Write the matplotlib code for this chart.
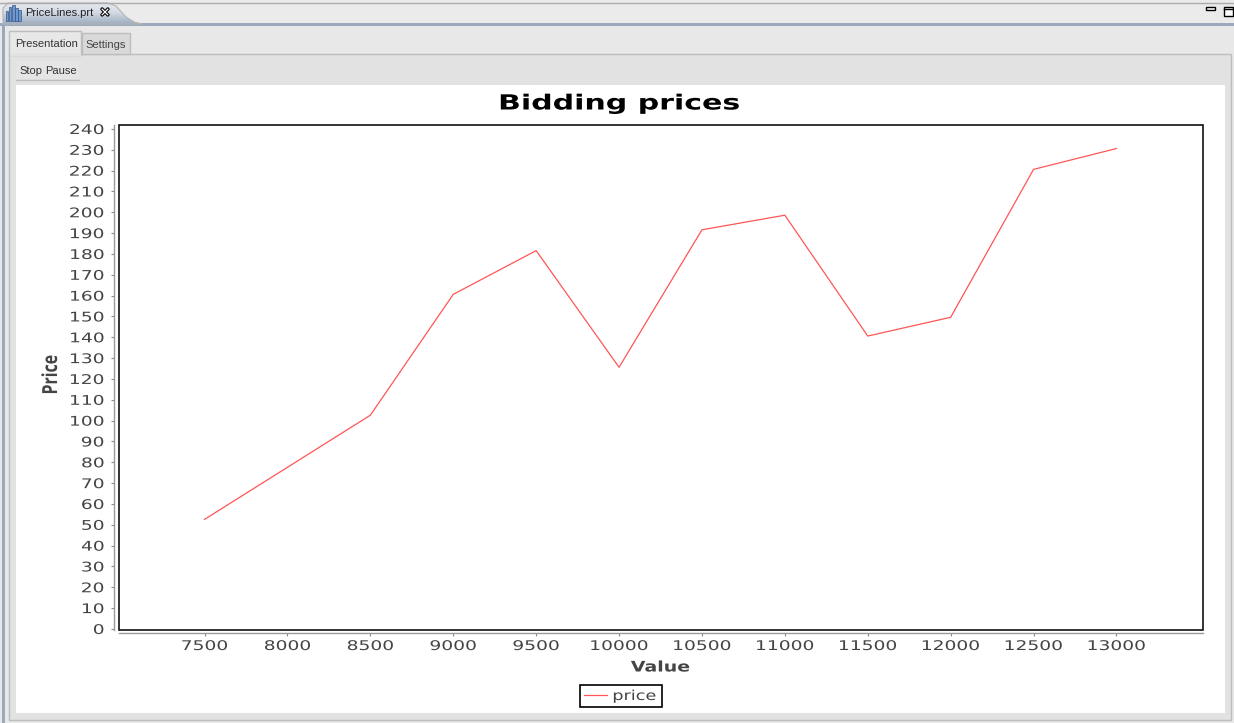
#!/usr/bin/env python

import numpy as np
import matplotlib
matplotlib.use('Agg')
import matplotlib.pyplot as plt
import matplotlib.patheffects as pe
from matplotlib.patches import Rectangle, Polygon
from matplotlib.transforms import Affine2D

# data
values = [7500, 8500, 9000, 9500, 10000, 10500, 11000, 11500, 12000, 12500, 13000]
prices = [52.6, 102.6, 160.6, 181.6, 125.6, 191.6, 198.6, 140.6, 149.6, 220.6, 230.6]
x_ticks = [7500, 8000, 8500, 9000, 9500, 10000, 10500, 11000, 11500, 12000, 12500, 13000]
y_ticks = list(range(0, 250, 10))
icon_bars = [10, 14, 16, 13, 11]

W, H = 1234, 723
TXT = '#444444'


# java2d draws the chart fonts wider than they are, so stretch the text paths
class Stretch(pe.AbstractPathEffect):
    def __init__(self, sx=1.0, sy=1.0, anchor='center'):
        super().__init__()
        self.sx, self.sy, self.anchor = sx, sy, anchor

    def draw_path(self, renderer, gc, tpath, affine, rgbFace=None):
        box = tpath.transformed(affine).get_extents()
        cx = {'center': (box.x0 + box.x1) / 2, 'right': box.x1, 'left': box.x0}[self.anchor]
        cy = (box.y0 + box.y1) / 2
        t = affine + Affine2D().translate(-cx, -cy).scale(self.sx, self.sy).translate(cx, cy)
        renderer.draw_path(gc, tpath, t, rgbFace)


fig = plt.figure(figsize=(W / 100, H / 100), dpi=100, facecolor='#e8e8e8')

# window chrome, in pixels
bg = fig.add_axes([0, 0, 1, 1], zorder=0)
bg.set_xlim(0, W)
bg.set_ylim(H, 0)
bg.axis('off')


def box(x0, y0, x1, y1, fc, ec='none', lw=0, **kw):
    bg.add_patch(Rectangle((x0, y0), x1 - x0, y1 - y0, fc=fc, ec=ec, lw=lw, **kw))


box(0, 0, W, 24, '#ebebeb')
bg.plot([0, W], [2.5, 2.5], color='#ababab', lw=1)
box(0, 23, W, 26, '#9aa9bd')
box(2, 24, 4.5, H, '#9aa9bd')

# editor tab with gradient
tab_pts = [(3, 24), (3, 8), (8, 3), (108, 3), (116, 6), (126, 17), (134, 22), (142, 24)]
tab = Polygon(tab_pts, closed=True, fc='none', ec='#b4b4b4', lw=0.8, zorder=1.6)
bg.add_patch(tab)
grad = np.linspace(0, 1, 24).reshape(-1, 1)
im = bg.imshow(grad, extent=(0, 145, 24, 0), cmap=matplotlib.colors.LinearSegmentedColormap.from_list(
    'tab', ['#eceef1', '#d4dbe4', '#9fafc3']), aspect='auto', zorder=1.5)
im.set_clip_path(tab)
bg.set_xlim(0, W)
bg.set_ylim(H, 0)
for i, h in enumerate(icon_bars):
    box(5.5 + i * 3.2, 21 - h, 8.2 + i * 3.2, 21, '#6f97cc', ec='#33558a', lw=0.5, zorder=2)
bg.text(25, 13.5, 'PriceLines.prt', fontsize=8, family='Liberation Sans', color='#222222',
        va='center', ha='left', zorder=3)
bg.text(105, 13, '✕', fontsize=9, family='DejaVu Sans', color='white', weight='bold',
        ha='center', va='center', zorder=3,
        path_effects=[pe.withStroke(linewidth=1.6, foreground='black')])

# minimise / maximise
box(1205.5, 6.5, 1214.5, 9.5, 'white', ec='black', lw=1)
box(1223.5, 6.5, 1232.5, 15.5, 'white', ec='black', lw=1)
bg.plot([1223.5, 1232.5], [8.5, 8.5], color='black', lw=1)

# inner panel
box(9, 54, 1231, 720, '#e2e2e2', ec='#bdbdbd', lw=1)
box(16, 85, 1225, 713, 'white')

# sub tabs
box(81.5, 33, 130, 54, '#d9d9d9', ec='#bdbdbd', lw=1)
box(9, 31, 81, 54.5, '#e8e8e8', ec='#bdbdbd', lw=1, zorder=2)
box(9.5, 53, 80.5, 56, '#e2e2e2', zorder=2.5)
bg.text(15, 44, 'Presentation', fontsize=8, family='Liberation Sans', color='#333333',
        va='center', zorder=3)
bg.text(85.5, 45, 'Settings', fontsize=8, family='Liberation Sans', color='#444444',
        va='center', zorder=3)
box(16, 61, 79, 79, '#e5e5e5')
bg.plot([16, 79], [79.5, 79.5], color='#bdbdbd', lw=1)
bg.text(19, 71, 'Stop', fontsize=8, family='Liberation Sans', color='#333333', va='center')
bg.text(45, 71, 'Pause', fontsize=8, family='Liberation Sans', color='#333333', va='center')

# chart area, plot box is x 119..1203, y 125..630 px
ax = fig.add_axes([119 / W, 1 - 630 / H, (1203 - 119) / W, (630 - 125) / H], zorder=1)
ax.patch.set_alpha(0)
ax.plot(values, prices, color='#ff5555', lw=0.9, label='price')
ax.set_xlim(6984, 13522)
ax.set_ylim(-0.5, 241.9)
ax.set_xticks(x_ticks)
ax.set_yticks(y_ticks)
ax.add_patch(Rectangle((0, 0), 1, 1, transform=ax.transAxes, fill=False, ec='#111111',
                       lw=1.2, clip_on=False))
for s in ['top', 'right']:
    ax.spines[s].set_visible(False)
for s, off in [('left', 3.6), ('bottom', 2.2)]:
    ax.spines[s].set_position(('outward', off))
    ax.spines[s].set_color('#999999')
    ax.spines[s].set_linewidth(1)
ax.tick_params(axis='both', length=2.5, width=0.8, color='#888888', labelcolor=TXT,
               labelsize=9.6)
ax.tick_params(axis='x', pad=2.5)
ax.tick_params(axis='y', pad=4.5)
for t in ax.get_xticklabels():
    t.set_path_effects([Stretch(sx=1.4)])
for t in ax.get_yticklabels():
    t.set_path_effects([Stretch(sx=1.4, anchor='right')])

fig.text(619.5 / W, 1 - 103.5 / H, 'Bidding prices', fontsize=15, weight='bold', color='black',
         ha='center', va='center', path_effects=[Stretch(sx=1.44)])
fig.text(660.5 / W, 1 - 667 / H, 'Value', fontsize=10.5, weight='bold', color=TXT,
         ha='center', va='center', path_effects=[Stretch(sx=1.3)])
fig.text(51 / W, 1 - 375 / H, 'Price', fontsize=13, weight='bold', family='Open Sans', color=TXT,
         rotation=90, ha='center', va='center', path_effects=[Stretch(sx=1.15, sy=0.88)])

# legend, px box 580..662 x 685..707
leg = ax.legend(loc='center', bbox_to_anchor=(580 / W, 1 - 707 / H, 82 / W, 22 / H),
                bbox_transform=fig.transFigure, mode='expand',
                frameon=True, fancybox=False, framealpha=1, edgecolor='black', fontsize=9.8,
                handlelength=1.7, handletextpad=0.4, borderpad=0.3, borderaxespad=0,
                labelcolor=TXT)
leg.get_frame().set_linewidth(1.2)
leg.get_texts()[0].set_path_effects([Stretch(sx=1.3, anchor='left')])

fig.savefig('out.png', dpi=100, facecolor=fig.get_facecolor())
